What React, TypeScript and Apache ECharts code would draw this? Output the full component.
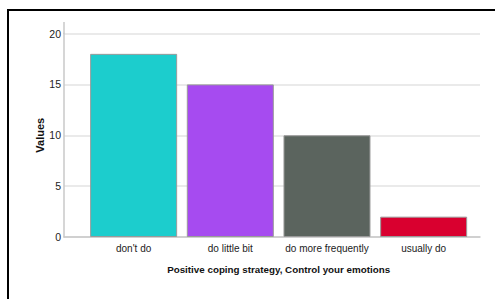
import React, { useEffect, useRef } from "react";
import * as echarts from "echarts";

const categories = ["don't do", "do little bit", "do more frequently", "usually do"];
const values = [18, 15, 10, 2];
const barColors = ["#1ccdcd", "#a64bf0", "#5b645e", "#d9002f"];
const yTicks = [0, 5, 10, 15, 20];
const yAxisName = "Values";
const xAxisName = "Positive coping strategy, Control your emotions";

const FONT = "'Liberation Sans', Arial, sans-serif";

export default function App() {
  const ref = useRef<HTMLDivElement>(null);
  useEffect(() => {
    if (!ref.current) return;
    const chart = echarts.init(ref.current, undefined, { renderer: "svg" });
    const yMin = yTicks[0];
    const yMax = yTicks[yTicks.length - 1];
    const yInterval = yTicks[1] - yTicks[0];
    chart.setOption({
      animation: false,
      backgroundColor: "#ffffff",
      textStyle: { fontFamily: FONT },
      grid: [
        { left: 85.3, right: 23, top: 33.5, bottom: 62 },
        { left: 64, right: 15, top: 33.5, bottom: 62 },
      ],
      xAxis: [
        {
          type: "category",
          gridIndex: 0,
          data: categories,
          axisLine: { show: false },
          axisTick: { show: false },
          axisLabel: { color: "#222", fontSize: 10, fontFamily: FONT, margin: 6, interval: 0 },
          name: xAxisName,
          nameLocation: "middle",
          nameGap: 27,
          nameMoveOverlap: false,
          nameTextStyle: { color: "#111", fontSize: 9.8, fontWeight: "bold", fontFamily: FONT },
        },
        {
          type: "value",
          gridIndex: 1,
          min: 0,
          max: 1,
          axisLine: { show: true, onZero: false, lineStyle: { color: "#c8c8c8", width: 1.5 } },
          axisTick: { show: false },
          axisLabel: { show: false },
          splitLine: { show: false },
        },
      ],
      yAxis: [
        {
          type: "value",
          gridIndex: 0,
          min: yMin,
          max: yMax,
          interval: yInterval,
          axisLine: { show: false },
          axisTick: { show: false },
          axisLabel: { show: false },
          splitLine: { show: false },
        },
        {
          type: "value",
          gridIndex: 1,
          min: yMin,
          max: yMax,
          interval: yInterval,
          axisLine: { show: true, lineStyle: { color: "#c8c8c8", width: 1.5 } },
          axisTick: { show: false },
          axisLabel: { color: "#222", fontSize: 10.5, fontFamily: FONT, margin: 3 },
          splitLine: { show: true, lineStyle: { color: "#e3e3e3", width: 1.5 } },
          name: yAxisName,
          nameLocation: "middle",
          nameGap: 19,
          nameMoveOverlap: false,
          nameTextStyle: { color: "#111", fontSize: 11, fontWeight: "bold", fontFamily: FONT },
        },
      ],
      series: [
        {
          type: "bar",
          xAxisIndex: 0,
          yAxisIndex: 0,
          barCategoryGap: "10%",
          z: 3,
          data: values.map((v, i) => ({
            value: v,
            itemStyle: { color: barColors[i], borderColor: "#9a9a9a", borderWidth: 1 },
          })),
        },
      ],
      graphic: [
        {
          type: "line",
          shape: { x1: 64, y1: 22, x2: 64, y2: 34 },
          style: { stroke: "#c8c8c8", lineWidth: 1.5 },
        },
        {
          type: "rect",
          shape: { x: 8, y: 10, width: 600, height: 400 },
          style: { fill: "none", stroke: "#000", lineWidth: 2 },
        },
      ],
    });
    return () => chart.dispose();
  }, []);
  return (
    <div
      ref={ref}
      style={{ position: "absolute", left: 0, top: 0, width: 495, height: 299 }}
    />
  );
}
